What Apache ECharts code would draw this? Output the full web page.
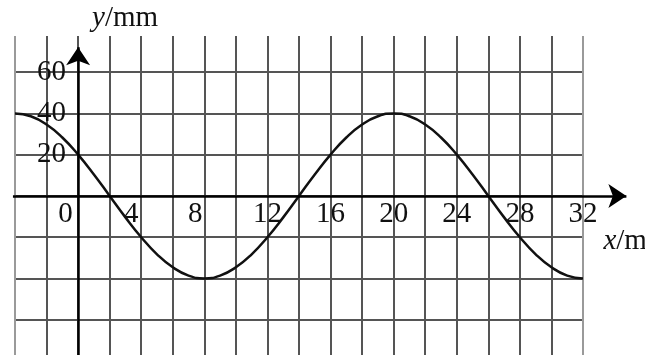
<!DOCTYPE html>
<html>
<head>
<meta charset="utf-8">
<script src="https://cdn.jsdelivr.net/npm/echarts@6/dist/echarts.min.js"></script>
<style>
  html, body { margin: 0; padding: 0; background: #fff; }
  #chart { width: 645px; height: 355px; }
</style>
</head>
<body>
<div id="chart"></div>
<script>
// Wave profile: displacement y (mm) against position x (m)
const positionX = [-4, -3, -2, -1, 0, 1, 2, 3, 4, 5, 6, 7, 8, 9, 10, 11, 12, 13, 14, 15, 16,
                   17, 18, 19, 20, 21, 22, 23, 24, 25, 26, 27, 28, 29, 30, 31, 32];
const displacementY = [40, 38.6, 34.6, 28.3, 20, 10.4, 0, -10.4, -20, -28.3, -34.6, -38.6, -40,
                       -38.6, -34.6, -28.3, -20, -10.4, 0, 10.4, 20, 28.3, 34.6, 38.6, 40,
                       38.6, 34.6, 28.3, 20, 10.4, 0, -10.4, -20, -28.3, -34.6, -38.6, -40];

// Tick labels printed along the axes
const xTickLabels = [0, 4, 8, 12, 16, 20, 24, 28, 32];
const yTickLabels = [20, 40, 60];

// Axis extents (data units) for the arrowed axis lines
const xAxisFrom = -4.13, xAxisTo = 34.75;
const yAxisFrom = -78, yAxisTo = 72;

const FONT = '"Liberation Serif", "Times New Roman", serif';
const FS = 29;

// plot frame
const GRID = { left: 15, right: 62, top: 36, bottom: -6 };
const X_MIN = -4, X_MAX = 32, Y_MIN = -80, Y_MAX = 77.5;
const CHART_W = 645, CHART_H = 355;

// the tick-label rows sit on the zero lines, so shift each axis from the frame edge to zero
const plotW = CHART_W - GRID.left - GRID.right;
const plotH = CHART_H - GRID.top - GRID.bottom;
const xZeroShift = plotW * (0 - X_MIN) / (X_MAX - X_MIN);
const yZeroShift = plotH * (0 - Y_MIN) / (Y_MAX - Y_MIN);

// labels nudged left of their grid line so the curve stays clear
const nudged = { 0: 'n0', 4: 'n4', 8: 'n8' };

const chart = echarts.init(document.getElementById('chart'), null, { renderer: 'canvas' });

const curve = positionX.map((x, i) => [x, displacementY[i]]);

const vLineColors = positionX.filter(x => x % 2 === 0).map((x, i, arr) =>
  (i === 0 || i === arr.length - 1) ? '#9a9a9a' : '#555');

chart.setOption({
  animation: false,
  backgroundColor: '#fff',
  grid: Object.assign({ containLabel: false, outerBoundsMode: 'none' }, GRID),
  xAxis: {
    type: 'value',
    min: X_MIN, max: X_MAX, interval: 2,
    position: 'bottom',
    offset: -yZeroShift,
    axisLine: { show: false, onZero: false },
    axisTick: { show: false },
    splitLine: { show: true, showMinLine: true, showMaxLine: true,
                 lineStyle: { color: vLineColors, width: 2 } },
    axisLabel: {
      margin: 4,
      color: '#111',
      fontFamily: FONT, fontSize: FS,
      formatter: v => {
        if (!xTickLabels.includes(v)) return '';
        return nudged[v] ? '{' + nudged[v] + '|' + v + '}' : '{d|' + v + '}';
      },
      rich: {
        d: { fontFamily: FONT, fontSize: FS, color: '#111' },
        n0: { fontFamily: FONT, fontSize: FS, color: '#111', padding: [0, 25, 0, 0] },
        n4: { fontFamily: FONT, fontSize: FS, color: '#111', padding: [0, 20, 0, 0] },
        n8: { fontFamily: FONT, fontSize: FS, color: '#111', padding: [0, 18, 0, 0] }
      }
    },
    name: '{i|x}/m',
    nameLocation: 'end',
    nameGap: -2,
    nameTextStyle: {
      fontFamily: FONT, fontSize: FS, color: '#111',
      align: 'left', verticalAlign: 'middle',
      padding: [90, 0, 0, 0],
      rich: { i: { fontFamily: FONT, fontSize: FS, fontStyle: 'italic', color: '#111' } }
    }
  },
  yAxis: {
    type: 'value',
    min: Y_MIN, max: Y_MAX, interval: 20,
    position: 'left',
    offset: -xZeroShift,
    axisLine: { show: false, onZero: false },
    axisTick: { show: false },
    splitLine: { show: true, showMinLine: false, showMaxLine: false,
                 lineStyle: { color: '#555', width: 2 } },
    axisLabel: {
      margin: 12,
      color: '#111',
      fontFamily: FONT, fontSize: FS,
      padding: [7, 0, 0, 0],
      formatter: v => yTickLabels.includes(v) ? String(v) : ''
    },
    name: '{i|y}/mm',
    nameLocation: 'end',
    nameGap: 3,
    nameTextStyle: {
      fontFamily: FONT, fontSize: FS, color: '#111',
      align: 'left', verticalAlign: 'bottom',
      padding: [0, 0, 0, 14],
      rich: { i: { fontFamily: FONT, fontSize: FS, fontStyle: 'italic', color: '#111' } }
    }
  },
  series: [
    {
      type: 'line',
      data: curve,
      smooth: true,
      showSymbol: false,
      lineStyle: { color: '#111', width: 2.5 },
      z: 5
    },
    {
      // arrowed x and y axes
      type: 'lines',
      coordinateSystem: 'cartesian2d',
      clip: false,
      symbol: ['none', 'arrow'],
      symbolSize: [15, 18],
      lineStyle: { color: '#000', width: 2.5, opacity: 1, curveness: 0 },
      data: [
        { coords: [[xAxisFrom, 0], [xAxisTo, 0]] },
        { coords: [[0, yAxisFrom], [0, yAxisTo]] }
      ],
      z: 6
    }
  ]
});
</script>
</body>
</html>
